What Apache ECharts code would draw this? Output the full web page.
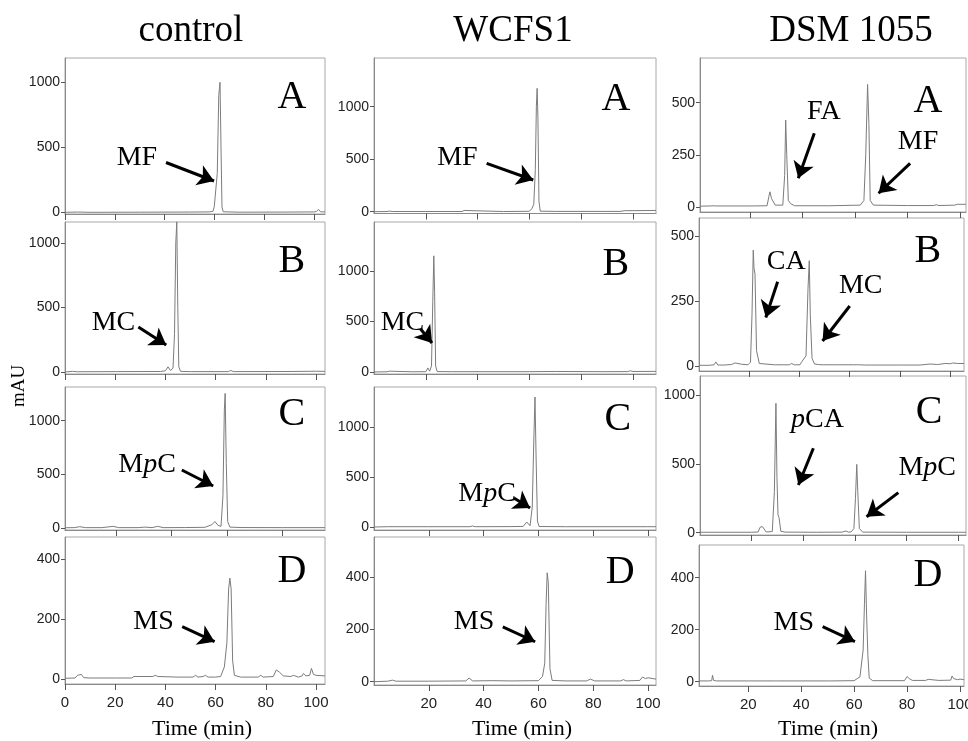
<!DOCTYPE html>
<html>
<head>
<meta charset="utf-8">
<script src="https://cdn.jsdelivr.net/npm/echarts@6/dist/echarts.min.js"></script>
<style>
  html, body { margin: 0; padding: 0; background: #fff; }
  #chart { width: 968px; height: 741px; }
</style>
</head>
<body>
<div id="chart"></div>
<script>
// ---- data (time in min, absorbance in mAU) ----
// control
const ctrlA_t = [0, 5, 10, 30, 50, 58, 59.5, 60, 60.6, 61.2, 61.8, 62.3, 62.7, 63.1, 63.6, 70, 90, 100, 101, 101.9, 102.7, 104.5];
const ctrlA_v = [0, 2, 0, 1, 2, 3, 8, 45, 60, 300, 900, 1000, 500, 40, 4, 1, 2, 3, 6, 22, 4, 3];
const ctrlB_t = [0, 3, 5, 20, 38, 40, 41, 42, 43, 43.6, 44.1, 44.5, 44.9, 45.3, 46, 50, 65, 66, 67, 90, 100, 103.5];
const ctrlB_v = [0, 5, 2, 3, 4, 10, 40, 12, 30, 300, 1000, 1165, 500, 40, 5, 3, 3, 12, 3, 4, 6, 5];
const ctrlC_t = [1.7, 5, 7, 9, 15, 19, 21, 28, 30.5, 33, 35, 37, 45, 52, 54.5, 55.6, 56.7, 57.8, 58.5, 59, 59.3, 59.7, 60.2, 61, 65, 80, 95.2];
const ctrlC_v = [2, 3, 12, 3, 3, 15, 3, 3, 8, 3, 15, 3, 4, 6, 30, 60, 25, 15, 300, 1100, 1255, 600, 60, 8, 4, 3, 3];
const ctrlD_t = [0, 4, 5, 5.7, 6.5, 7.5, 10, 20, 26.5, 27.5, 35, 36, 37, 45, 51, 52, 53, 55, 56, 57, 60, 62, 63.5, 64.5, 65.2, 65.7, 66.2, 66.8, 67.5, 70, 77, 78, 79, 83, 84.2, 85.5, 87, 90, 91, 93, 94.5, 95, 96, 97.5, 98.2, 99, 100, 103.6];
const ctrlD_v = [2, 3, 12, 6, 15, 4, 3, 3, 3, 8, 8, 12, 8, 6, 6, 12, 6, 8, 12, 6, 6, 8, 40, 120, 300, 336, 300, 60, 12, 6, 6, 12, 6, 8, 30, 22, 10, 8, 12, 6, 10, 18, 10, 12, 35, 15, 12, 10];
// WCFS1
const wcfsA_t = [0, 5, 6, 7, 20, 34, 34.8, 35.5, 50, 60, 61, 61.7, 62.3, 62.7, 63, 63.3, 63.7, 64.2, 70, 90, 95, 97, 100, 108.9];
const wcfsA_v = [0, 2, 6, 2, 2, 2, 12, 2, 2, 4, 30, 70, 400, 1000, 1175, 900, 100, 5, 3, 3, 3, 10, 10, 12];
const wcfsB_t = [0, 5, 6, 15, 20, 20.8, 21.5, 22.2, 22.7, 23.1, 23.4, 23.8, 24.4, 30, 60, 70, 90, 98, 99, 100, 108.9];
const wcfsB_v = [0, 2, 8, 2, 3, 40, 8, 60, 700, 1150, 800, 60, 4, 3, 3, 5, 3, 4, 12, 5, 6];
const wcfsC_t = [0, 5, 20, 35, 36, 37, 50, 54.5, 55.8, 57, 57.8, 58.4, 58.8, 59.2, 59.7, 60.3, 70, 80, 100, 103];
const wcfsC_v = [0, 3, 3, 3, 10, 3, 4, 6, 50, 12, 200, 900, 1300, 700, 60, 5, 3, 3, 3, 3];
const wcfsD_t = [0, 5, 6.8, 8, 20, 33.5, 34.7, 36, 43, 50, 60, 61.5, 62.3, 62.8, 63.2, 63.6, 64.2, 65, 70, 77.5, 79, 80.5, 90, 91, 92, 97, 98, 99, 100, 102.9];
const wcfsD_v = [0, 2, 6, 2, 2, 3, 14, 3, 4, 3, 4, 20, 71, 300, 417, 380, 50, 5, 3, 3, 10, 3, 3, 8, 3, 5, 18, 12, 15, 10];
// DSM 1055
const dsmA_t = [0.95, 5, 5.5, 6, 6.5, 7, 20, 26.5, 27.2, 27.6, 28.2, 28.9, 29.6, 32.5, 33.2, 33.6, 34, 34.6, 35.5, 37, 50, 62, 63.4, 64.1, 64.8, 65.3, 65.8, 67, 80, 90, 91, 92, 98, 99, 102.3];
const dsmA_v = [3, 4, 10, 5, 10, 4, 4, 5, 50, 72, 40, 48, 8, 8, 150, 417, 250, 30, 15, 5, 5, 8, 30, 250, 588, 400, 30, 8, 6, 6, 10, 6, 8, 12, 12];
const dsmB_t = [0, 4, 6, 6.7, 7.5, 10, 13, 14.3, 15.5, 17, 19.5, 20.5, 21.1, 21.6, 21.9, 22.3, 22.9, 24, 30, 33.5, 34.2, 35, 36, 36.8, 38, 40.2, 40.8, 41.5, 42.6, 43.4, 43.9, 44.3, 45, 46, 47.5, 48.2, 49, 55, 61.5, 62.2, 63, 64, 64.7, 66, 80, 88, 92, 95, 98, 100, 101, 103, 105.5];
const dsmB_v = [3, 3, 5, 16, 4, 4, 6, 12, 10, 7, 5, 15, 200, 448, 380, 355, 60, 10, 5, 5, 12, 5, 5, 10, 5, 5, 15, 8, 40, 300, 407, 200, 30, 8, 6, 12, 5, 5, 5, 10, 5, 5, 8, 4, 4, 4, 8, 6, 10, 9, 12, 10, 10];
const dsmC_t = [0, 5, 10, 20, 22.5, 23.3, 24.2, 24.9, 25.6, 28, 28.8, 29.4, 29.8, 30.2, 30.6, 31.3, 33, 45, 55, 56.5, 57.5, 58.5, 59.6, 60.2, 60.7, 61.1, 61.7, 63, 80, 100, 103];
const dsmC_v = [3, 3, 3, 3, 5, 40, 44, 40, 5, 8, 300, 941, 400, 130, 110, 10, 4, 3, 4, 12, 4, 5, 30, 250, 497, 300, 30, 4, 3, 3, 3];
const dsmD_t = [1.4, 5, 6.2, 6.5, 6.9, 7.4, 8, 20, 30, 30.5, 31, 35, 35.7, 36.5, 50, 50.5, 51, 60, 62.2, 63.4, 63.9, 64.3, 64.7, 65.2, 65.7, 67, 79, 80, 80.8, 82, 87, 88, 92, 92.5, 96.5, 97, 97.6, 98.3, 99, 100, 101.5];
const dsmD_v = [3, 3, 4, 25, 5, 10, 3, 3, 3, 7, 3, 3, 8, 3, 3, 7, 3, 4, 19, 122, 300, 427, 260, 100, 14, 4, 4, 20, 12, 5, 5, 9, 5, 8, 6, 22, 12, 15, 8, 10, 8];

// tick labels
const ticks1000 = [0, 500, 1000];
const ticks500 = [0, 250, 500];
const ticks400 = [0, 200, 400];
const timeTicks0 = [0, 20, 40, 60, 80, 100];
const timeTicks = [20, 40, 60, 80, 100];
const timeTicksC = [20, 40, 60, 80];

const columnTitles = ['control', 'WCFS1', 'DSM 1055'];
const panelLetters = ['A', 'B', 'C', 'D'];

// panel layout: box = [left, top, right, bottom] in px, axis extents, annotations in data coords
const panels = [
  { t: ctrlA_t, v: ctrlA_v, box: [65, 58, 325, 214], x: [0, 104.5], y: [-13, 1187], xt: timeTicks0, yt: ticks1000, letter: [91.2, 887],
    notes: [{ text: 'MF', at: [28.9, 417], from: [40.6, 383], to: [59.9, 241] }] },
  { t: ctrlB_t, v: ctrlB_v, box: [65, 222, 325, 374], x: [0, 103.5], y: [-15.5, 1163], xt: timeTicks0, yt: ticks1000, letter: [90.3, 853],
    notes: [{ text: 'MC', at: [19.3, 380], from: [29.2, 349], to: [40.3, 209] }] },
  { t: ctrlC_t, v: ctrlC_v, box: [65, 387, 325, 530], x: [1.7, 95.2], y: [-19, 1314], xt: timeTicksC, yt: ticks1000, letter: [83.3, 1053],
    notes: [{ text: 'MpC', at: [31.2, 587], from: [43.7, 540], to: [55, 391] }] },
  { t: ctrlD_t, v: ctrlD_v, box: [65, 537, 325, 684], x: [0, 103.6], y: [-17, 473], xt: timeTicks0, yt: ticks400, letter: [90.4, 357], bottom: true,
    notes: [{ text: 'MS', at: [35.3, 190], from: [46.7, 174], to: [59.6, 124] }] },

  { t: wcfsA_t, v: wcfsA_v, box: [374, 58, 656, 213.5], x: [0, 108.9], y: [-17, 1464], xt: timeTicks, yt: ticks1000, letter: [93.4, 1073],
    notes: [{ text: 'MF', at: [32.2, 516], from: [43.5, 461], to: [61.5, 302] }] },
  { t: wcfsB_t, v: wcfsB_v, box: [374, 222, 656, 374], x: [0, 108.9], y: [-20, 1485], xt: timeTicks, yt: ticks1000, letter: [93.4, 1069],
    notes: [{ text: 'MC', at: [11, 485], from: [18, 426], to: [22.4, 287] }] },
  { t: wcfsC_t, v: wcfsC_v, box: [374, 387, 656, 530], x: [0, 103], y: [-30, 1400], xt: timeTicks, yt: ticks1000, letter: [89.1, 1080],
    notes: [{ text: 'MpC', at: [41.3, 330], from: [51.1, 290], to: [57, 190] }] },
  { t: wcfsD_t, v: wcfsD_v, box: [374, 537, 656, 685], x: [0, 102.9], y: [-12.6, 554], xt: timeTicks, yt: ticks400, letter: [89.8, 420], bottom: true,
    notes: [{ text: 'MS', at: [36.5, 229], from: [47, 210], to: [58.8, 153] }] },

  { t: dsmA_t, v: dsmA_v, box: [700, 58, 966, 212], x: [0.95, 102.3], y: [-25, 715], xt: timeTicks, yt: ticks500, letter: [87.8, 508],
    notes: [{ text: 'FA', at: [48.1, 459], from: [44.5, 353], to: [38.4, 137] },
            { text: 'MF', at: [84, 315], from: [81, 209], to: [69, 65] }] },
  { t: dsmB_t, v: dsmB_v, box: [699, 218, 964, 371], x: [0, 105.5], y: [-19, 572], xt: timeTicks, yt: ticks500, letter: [91.1, 441],
    notes: [{ text: 'CA', at: [34.7, 402], from: [31.3, 326], to: [26.6, 188] },
            { text: 'MC', at: [64.4, 309], from: [60, 232], to: [49.2, 97] }] },
  { t: dsmC_t, v: dsmC_v, box: [700, 376, 966, 535], x: [0, 103], y: [-17, 1140], xt: timeTicks, yt: ticks1000, letter: [88.7, 877],
    notes: [{ text: 'pCA', at: [45.5, 825], from: [43.9, 614], to: [38.1, 347] },
            { text: 'MpC', at: [88, 474], from: [76.8, 291], to: [64.5, 116] }] },
  { t: dsmD_t, v: dsmD_v, box: [699, 545, 964, 686], x: [1.4, 101.5], y: [-16.5, 526], xt: timeTicks, yt: ticks400, letter: [87.9, 410], bottom: true,
    notes: [{ text: 'MS', at: [37.2, 229], from: [48.1, 212], to: [60.3, 154] }] }
];

const serif = "'Liberation Serif', 'Times New Roman', serif";
const sans = "'Liberation Sans Narrow', 'Liberation Sans', Arial, sans-serif";

function richText(s) {
  return s.split('p').map(part => part ? '{n|' + part + '}' : '').join('{i|p}');
}
const labelRich = {
  n: { fontFamily: serif, fontSize: 28, color: '#000' },
  i: { fontFamily: serif, fontSize: 28, color: '#000', fontStyle: 'italic' }
};
const plain = v => String(v);

const grids = [], xAxes = [], yAxes = [], series = [];
panels.forEach((p, i) => {
  const [l, t, r, b] = p.box;
  grids.push({
    left: l, top: t, width: r - l, height: b - t,
    show: true, borderColor: '#a8a8a8', borderWidth: 1,
    outerBoundsMode: 'none', containLabel: false
  });
  xAxes.push({
    type: 'value', gridIndex: i, min: p.x[0], max: p.x[1],
    axisLine: { show: true, onZero: false, lineStyle: { color: '#8a8a8a', width: 1 } },
    axisTick: { show: true, customValues: p.xt, length: 6, lineStyle: { color: '#555' } },
    axisLabel: { show: !!p.bottom, customValues: p.xt, formatter: plain, margin: 11, fontSize: 15, fontFamily: sans, color: '#222' },
    splitLine: { show: false }
  });
  yAxes.push({
    type: 'value', gridIndex: i, min: p.y[0], max: p.y[1],
    axisLine: { show: true, onZero: false, lineStyle: { color: '#8a8a8a', width: 1 } },
    axisTick: { show: true, customValues: p.yt, length: 4, lineStyle: { color: '#555' } },
    axisLabel: { show: true, customValues: p.yt, formatter: plain, margin: 5, fontSize: 14, fontFamily: sans, color: '#222' },
    splitLine: { show: false }
  });
  const points = p.t.map((tm, k) => [tm, p.v[k]]);
  const marks = p.notes.map(n => ({
    coord: n.at,
    label: { formatter: richText(n.text), rich: labelRich }
  }));
  marks.push({
    coord: p.letter,
    label: { formatter: panelLetters[i % 4], fontFamily: serif, fontSize: 40, color: '#000' }
  });
  series.push({
    type: 'line', xAxisIndex: i, yAxisIndex: i, data: points,
    showSymbol: false, symbol: 'none', silent: true,
    lineStyle: { color: '#7c7c7c', width: 1 },
    markLine: {
      silent: true, animation: false,
      symbol: ['none', 'arrow'], symbolSize: 16,
      label: { show: false },
      lineStyle: { color: '#000', width: 3, type: 'solid' },
      data: p.notes.map(n => [{ coord: n.from }, { coord: n.to }])
    },
    markPoint: {
      silent: true, animation: false,
      symbol: 'rect', symbolSize: 1,
      itemStyle: { color: 'rgba(0,0,0,0)' },
      label: { show: true, position: 'inside', color: '#000' },
      data: marks
    }
  });
});

const colCenters = [191, 513, 851];
const timeCenters = [202, 522, 828];
const graphics = [];
columnTitles.forEach((txt, c) => {
  graphics.push({ type: 'text', x: colCenters[c], y: 31, style: { text: txt, font: '37px ' + serif, fill: '#000', textAlign: 'center', textVerticalAlign: 'middle' } });
  graphics.push({ type: 'text', x: timeCenters[c], y: 729, style: { text: 'Time (min)', font: '22px ' + serif, fill: '#000', textAlign: 'center', textVerticalAlign: 'middle' } });
});
graphics.push({ type: 'text', x: 19, y: 386, rotation: Math.PI / 2, style: { text: 'mAU', font: '19px ' + serif, fill: '#000', textAlign: 'center', textVerticalAlign: 'middle' } });

const chart = echarts.init(document.getElementById('chart'));
chart.setOption({
  animation: false,
  backgroundColor: '#fff',
  grid: grids,
  xAxis: xAxes,
  yAxis: yAxes,
  series: series,
  graphic: graphics
});
</script>
</body>
</html>
